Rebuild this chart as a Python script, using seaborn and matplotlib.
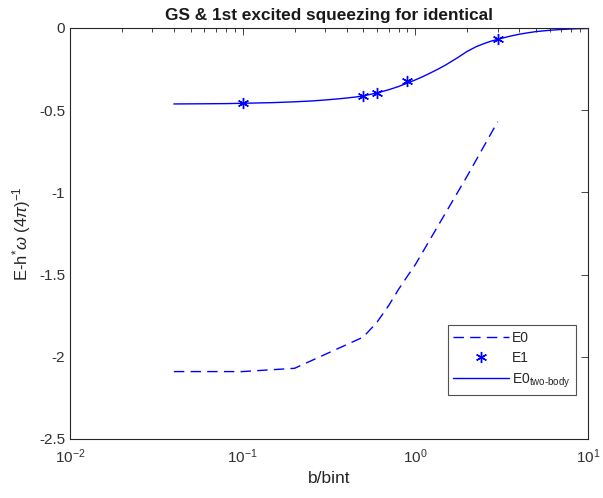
import matplotlib
matplotlib.use("Agg")
import matplotlib.pyplot as plt
import seaborn as sns
import pandas as pd
import numpy as np
from matplotlib.ticker import LogLocator, FixedLocator, NullFormatter

# Data
e0_x = [0.04, 0.1, 0.2, 0.5, 0.6, 0.7, 0.8, 0.9, 1.0, 2.0, 3.0]
e0_y = [-2.09, -2.09, -2.07, -1.88, -1.79, -1.69, -1.59, -1.51, -1.44, -0.90, -0.57]

e1_x = [0.1, 0.5, 0.6, 0.9, 3.0]
e1_y = [-0.456, -0.414, -0.393, -0.320, -0.069]

tb_x = [0.04, 0.06, 0.08, 0.1, 0.15, 0.2, 0.25, 0.3, 0.35, 0.4, 0.45, 0.5, 0.6, 0.7,
        0.8, 0.9, 1.0, 1.1, 1.2, 1.35, 1.5, 1.75, 2.0, 2.25, 2.5, 2.75, 3.0, 3.5,
        4.0, 4.5, 5.0, 6.0, 7.0, 8.0, 9.0, 10.0]
tb_y = [-0.462, -0.461, -0.460, -0.458, -0.454, -0.449, -0.444, -0.438, -0.432, -0.426,
        -0.420, -0.413, -0.395, -0.376, -0.356, -0.335, -0.316, -0.297, -0.278, -0.251,
        -0.225, -0.182, -0.142, -0.114, -0.095, -0.080, -0.069, -0.051, -0.038, -0.029,
        -0.022, -0.014, -0.009, -0.006, -0.004, -0.003]

yticks = [-2.5, -2.0, -1.5, -1.0, -0.5, 0.0]
ytick_labels = ["-2.5", "-2", "-1.5", "-1", "-0.5", "0"]
xticks = [1e-2, 1e-1, 1e0, 1e1]
xtick_labels = ["$10^{-2}$", "$10^{-1}$", "$10^{0}$", "$10^{1}$"]

sns.set_style("white")
plt.rcParams['font.family'] = ['Liberation Sans', 'DejaVu Sans']
plt.rcParams['mathtext.fontset'] = 'custom'
plt.rcParams['mathtext.rm'] = 'Liberation Sans'
plt.rcParams['mathtext.it'] = 'Liberation Sans:italic'
plt.rcParams['mathtext.bf'] = 'Liberation Sans:bold'
plt.rcParams['mathtext.fallback'] = 'cm'

fig = plt.figure(figsize=(6.03, 4.98), dpi=100)
ax = fig.add_axes([0.116, 0.1185, 0.859, 0.8253])

blue = (0, 0, 1)
df0 = pd.DataFrame({"x": e0_x, "y": e0_y})
dft = pd.DataFrame({"x": tb_x, "y": tb_y})

sns.lineplot(data=df0, x="x", y="y", ax=ax, color=blue, linewidth=1.0,
             label="E0", estimator=None, sort=False)
ax.lines[-1].set_linestyle((0, (7.5, 4.5)))
ax.plot(e1_x, e1_y, linestyle="none", marker=(6, 2, 0), markersize=8,
        color=blue, markeredgewidth=1.0, label="E1")
sns.lineplot(data=dft, x="x", y="y", ax=ax, color=blue, linewidth=1.0,
             label="E0$_{\\mathrm{two\\text{-}body}}$", estimator=None, sort=False)

ax.set_xscale("log")
ax.set_xlim(1e-2, 1e1)
ax.set_ylim(-2.5, 0)
ax.set_yticks(yticks)
ax.set_yticklabels(ytick_labels)
ax.xaxis.set_major_locator(FixedLocator(xticks))
ax.set_xticklabels(xtick_labels)
ax.xaxis.set_minor_locator(LogLocator(base=10, subs=np.arange(2, 10), numticks=20))
ax.xaxis.set_minor_formatter(NullFormatter())

ax.tick_params(axis="both", which="both", direction="in", top=True, right=True,
               labelsize=11, colors="#262626", labelcolor="#303030")
ax.tick_params(axis="both", which="major", length=5, width=0.6)
ax.tick_params(axis="x", which="minor", length=3, width=0.6)
ax.tick_params(axis="x", which="major", pad=6)
for s in ax.spines.values():
    s.set_color("#262626")
    s.set_linewidth(0.8)

ax.set_xlabel("b/bint", fontsize=12.5, color="#262626")
ax.set_ylabel("E-h$^{*}\\omega$ (4$\\pi$)$^{-1}$", fontsize=12, color="#262626")
ax.set_title("GS & 1st excited squeezing for identical", fontsize=12.4,
             fontweight="bold", color="#1a1a1a", pad=6)

leg = ax.legend(loc="lower right", bbox_to_anchor=(0.982, 0.1), fontsize=10,
                frameon=True, fancybox=False, edgecolor="#262626",
                handlelength=4.0, borderpad=0.4, labelspacing=0.45, handletextpad=0.2,
                borderaxespad=0.2)
leg.get_frame().set_linewidth(0.8)

fig.savefig("out.png", dpi=100)
